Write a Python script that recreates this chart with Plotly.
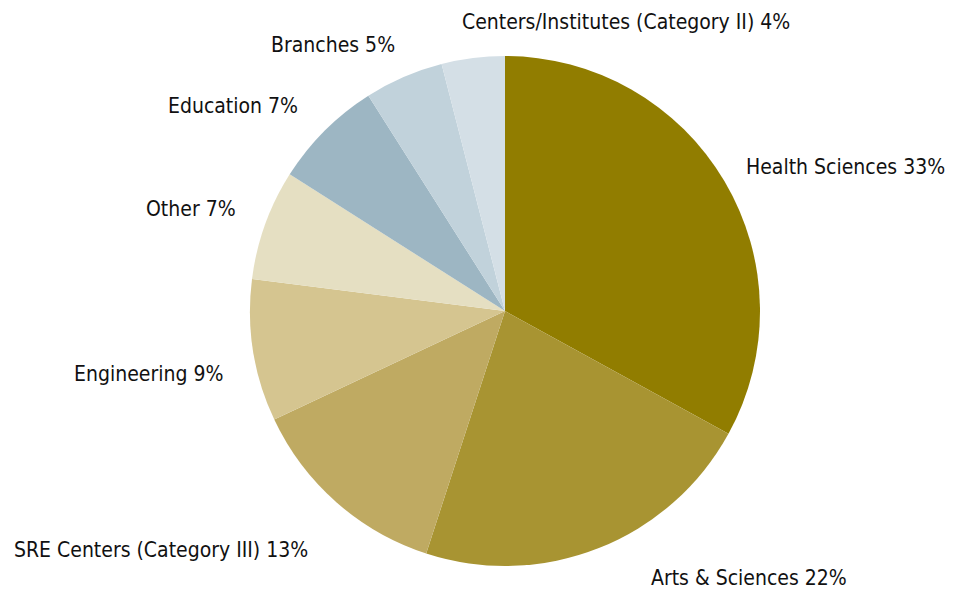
import plotly.graph_objects as go

labels = ["Health Sciences", "Arts & Sciences", "SRE Centers (Category III)", "Engineering",
          "Other", "Education", "Branches", "Centers/Institutes (Category II)"]
values = [33, 22, 13, 9, 7, 7, 5, 4]
colors = ["#917D00", "#A89432", "#BFAA62", "#D5C590", "#E5DFC2", "#9DB6C3", "#C1D2DB", "#D4DFE6"]

# label centre positions on the page, in pixels (layout only)
label_px = [(845, 167), (749, 578), (161, 550), (148, 374),
            (191, 209), (233, 106), (333, 45), (626, 22)]

W, H = 955, 596
L, R, T, B = 242, 203, 48, 38
OFF = 8  # page body offset
pw, ph = W - L - R, H - T - B

fig = go.Figure(go.Pie(
    labels=labels, values=values, sort=False, direction="clockwise", rotation=0,
    marker=dict(colors=colors, line=dict(width=0)),
    textinfo="none", showlegend=False, hoverinfo="label+percent",
))

font = dict(family="DejaVu Sans Condensed, sans-serif", size=21, color="#111111")
for lab, val, (px, py) in zip(labels, values, label_px):
    fig.add_annotation(
        text=f"{lab} {val}%", showarrow=False, font=font,
        xref="paper", yref="paper",
        x=(px - OFF - L) / pw, y=1 - (py - OFF - T) / ph,
        xanchor="center", yanchor="middle",
    )

fig.update_layout(
    width=W, height=H, paper_bgcolor="white", plot_bgcolor="white",
    margin=dict(l=L, r=R, t=T, b=B),
)
fig.write_html("out.html")
